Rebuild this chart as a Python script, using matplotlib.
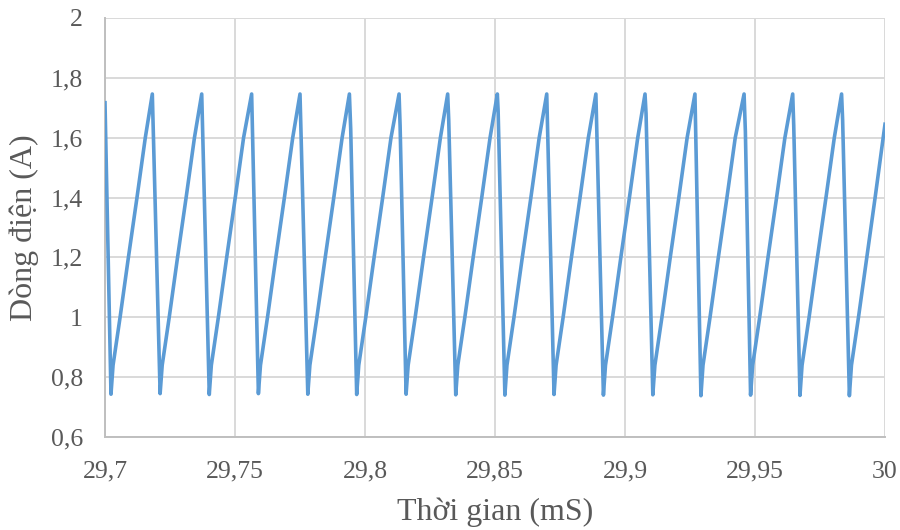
import matplotlib
matplotlib.use('Agg')
import matplotlib.pyplot as plt
from matplotlib.ticker import FixedLocator, FixedFormatter

plt.rcParams['font.family'] = ['Liberation Serif', 'DejaVu Serif']

# thoi gian (mS) va dong dien (A), doc tu hinh, tung chu ky mot dong
time_ms = [
    29.7000,
    29.7023, 29.7031, 29.7058, 29.7090, 29.7123, 29.7155, 29.7182,
    29.7212, 29.7220, 29.7247, 29.7279, 29.7312, 29.7344, 29.7372,
    29.7401, 29.7409, 29.7436, 29.7468, 29.7501, 29.7533, 29.7564,
    29.7590, 29.7598, 29.7625, 29.7657, 29.7690, 29.7722, 29.7750,
    29.7780, 29.7788, 29.7815, 29.7847, 29.7880, 29.7912, 29.7940, 29.7945,
    29.7968, 29.7976, 29.8003, 29.8035, 29.8068, 29.8100, 29.8131, 29.8135,
    29.8158, 29.8166, 29.8193, 29.8225, 29.8258, 29.8290, 29.8318, 29.8322,
    29.8349, 29.8357, 29.8384, 29.8416, 29.8449, 29.8481, 29.8509, 29.8512,
    29.8538, 29.8546, 29.8573, 29.8605, 29.8638, 29.8670, 29.8699,
    29.8727, 29.8735, 29.8762, 29.8794, 29.8827, 29.8859, 29.8888,
    29.8917, 29.8925, 29.8952, 29.8984, 29.9017, 29.9049, 29.9077, 29.9081,
    29.9107, 29.9115, 29.9142, 29.9174, 29.9207, 29.9239, 29.9269,
    29.9292, 29.9300, 29.9327, 29.9359, 29.9392, 29.9424, 29.9458, 29.9463,
    29.9483, 29.9491, 29.9518, 29.9550, 29.9583, 29.9615, 29.9645, 29.9649,
    29.9673, 29.9681, 29.9708, 29.9740, 29.9773, 29.9805, 29.9833, 29.9837,
    29.9863, 29.9871, 29.9898, 29.9930, 29.9962, 29.9993, 30.0000,
]
current_a = [
    1.717,
    0.743, 0.84, 1.00, 1.20, 1.40, 1.60, 1.746,
    0.745, 0.84, 1.00, 1.20, 1.40, 1.60, 1.746,
    0.742, 0.84, 1.00, 1.20, 1.40, 1.60, 1.746,
    0.745, 0.84, 1.00, 1.20, 1.40, 1.60, 1.746,
    0.743, 0.84, 1.00, 1.20, 1.40, 1.60, 1.746, 1.63,
    0.742, 0.84, 1.00, 1.20, 1.40, 1.60, 1.746, 1.64,
    0.743, 0.84, 1.00, 1.20, 1.40, 1.60, 1.746, 1.66,
    0.741, 0.84, 1.00, 1.20, 1.40, 1.60, 1.746, 1.69,
    0.740, 0.84, 1.00, 1.20, 1.40, 1.60, 1.746,
    0.742, 0.84, 1.00, 1.20, 1.40, 1.60, 1.746,
    0.740, 0.84, 1.00, 1.20, 1.40, 1.60, 1.746, 1.68,
    0.741, 0.84, 1.00, 1.20, 1.40, 1.60, 1.746,
    0.738, 0.84, 1.00, 1.20, 1.40, 1.60, 1.746, 1.62,
    0.740, 0.84, 1.00, 1.20, 1.40, 1.60, 1.746, 1.64,
    0.739, 0.84, 1.00, 1.20, 1.40, 1.60, 1.746, 1.66,
    0.738, 0.84, 1.00, 1.20, 1.40, 1.60, 1.645,
]

x_ticks = [29.7, 29.75, 29.8, 29.85, 29.9, 29.95, 30.0]
x_labels = ['29,7', '29,75', '29,8', '29,85', '29,9', '29,95', '30']
y_ticks = [0.6, 0.8, 1.0, 1.2, 1.4, 1.6, 1.8, 2.0]
y_labels = ['0,6', '0,8', '1', '1,2', '1,4', '1,6', '1,8', '2']

text_col = '#595959'
grid_col = '#d9d9d9'

fig = plt.figure(figsize=(9, 5.3), dpi=100)
ax = fig.add_axes([105/900, 93/530, 780/900, 419/530])

ax.plot(time_ms, current_a, color='#5B9BD5', lw=2.6, solid_joinstyle='round', zorder=3)

ax.set_xlim(29.7, 30.0)
ax.set_ylim(0.6, 2.0)
ax.xaxis.set_major_locator(FixedLocator(x_ticks))
ax.xaxis.set_major_formatter(FixedFormatter(x_labels))
ax.yaxis.set_major_locator(FixedLocator(y_ticks))
ax.yaxis.set_major_formatter(FixedFormatter(y_labels))

ax.grid(True, color=grid_col, lw=1.4)
ax.set_axisbelow(True)
for s in ['top', 'right']:
    ax.spines[s].set_visible(False)
for s in ['left', 'bottom']:
    ax.spines[s].set_color('#bfbfbf')
    ax.spines[s].set_linewidth(1.4)

ax.tick_params(axis='both', length=0, labelsize=18.5, labelcolor=text_col)
ax.tick_params(axis='x', pad=17)
ax.tick_params(axis='y', pad=16)

ax.set_xlabel('Thời gian (mS)', fontsize=23, color=text_col, va='baseline')
ax.xaxis.set_label_coords(0.5, -0.198)
ax.set_ylabel('Dòng điện (A)', fontsize=23, color=text_col, va='center', ha='center')
ax.yaxis.set_label_coords(-0.104, 0.5)

fig.savefig('out.png', dpi=100)
